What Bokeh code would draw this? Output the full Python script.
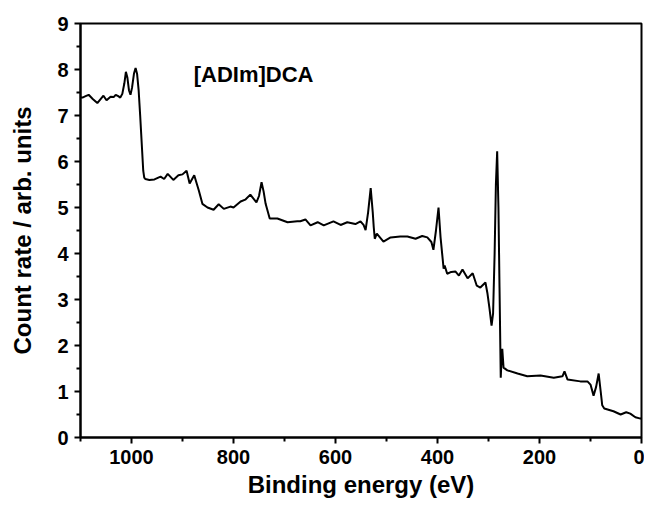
from bokeh.plotting import figure
from bokeh.models import Range1d, Label, FixedTicker
from bokeh.embed import file_html
from bokeh.resources import INLINE

energy = [1100, 1096, 1090, 1084, 1076, 1067, 1061, 1055, 1049, 1041, 1035, 1031, 1026, 1022,
          1018, 1014, 1011, 1008, 1005, 1002, 999, 995, 992, 989, 986, 983, 981, 979, 977, 975,
          973, 965, 955, 943, 936, 929, 918, 908, 900, 892, 886, 877, 868, 861, 851, 839, 829,
          819, 806, 800, 786, 777, 767, 755, 750, 745, 741, 737, 729, 714, 694, 675, 669, 659,
          649, 635, 623, 604, 590, 577, 561, 551, 545, 541, 536, 531, 527, 525, 523, 519, 506,
          492, 473, 459, 443, 430, 420, 412, 408, 403, 398, 394, 388, 386, 381, 373, 365, 358,
          351, 341, 331, 323, 316, 306, 302, 298, 294, 291, 288, 285.5, 283, 280.5, 278.4, 276,
          274.5, 273, 270.5, 263, 243, 224, 198, 172, 155, 151, 145, 120, 106, 100, 94, 89, 84,
          80, 77, 73, 55, 41, 30, 22, 12, 2, 0]
count = [7.39, 7.39, 7.42, 7.45, 7.36, 7.27, 7.35, 7.43, 7.33, 7.41, 7.40, 7.45, 7.42, 7.39,
         7.47, 7.70, 7.95, 7.82, 7.55, 7.45, 7.60, 7.92, 8.03, 7.90, 7.55, 7.00, 6.60, 6.20, 5.80, 5.65,
         5.62, 5.60, 5.61, 5.67, 5.62, 5.73, 5.60, 5.70, 5.72, 5.80, 5.52, 5.70, 5.37, 5.08, 5.00, 4.95, 5.07,
         4.97, 5.02, 5.00, 5.13, 5.17, 5.28, 5.11, 5.25, 5.55, 5.35, 5.08, 4.76, 4.76, 4.68, 4.70, 4.70, 4.74,
         4.61, 4.68, 4.61, 4.70, 4.62, 4.68, 4.64, 4.70, 4.62, 4.51, 4.90, 5.42, 4.90, 4.57, 4.32, 4.43, 4.26,
         4.35, 4.37, 4.37, 4.32, 4.38, 4.35, 4.25, 4.08, 4.50, 5.00, 4.35, 3.67, 3.74, 3.56, 3.60, 3.61, 3.52,
         3.65, 3.46, 3.57, 3.30, 3.26, 3.37, 3.13, 2.80, 2.43, 2.70, 4.00, 5.50, 6.22, 5.00, 3.26, 1.30,
         1.70, 1.93, 1.52, 1.46, 1.39, 1.33, 1.35, 1.30, 1.33, 1.44, 1.26, 1.22, 1.22, 1.15, 0.91, 1.10, 1.39,
         1.00, 0.70, 0.63, 0.57, 0.50, 0.55, 0.52, 0.44, 0.41, 0.42]

x_major = [0, 200, 400, 600, 800, 1000]
x_minor = [100, 300, 500, 700, 900, 1100]
y_major = [0, 1, 2, 3, 4, 5, 6, 7, 8, 9]
y_minor = [0.5, 1.5, 2.5, 3.5, 4.5, 5.5, 6.5, 7.5, 8.5]

FONT = "Liberation Sans"

p = figure(width=644, height=506, x_range=Range1d(1100, 0), y_range=Range1d(0, 9),
           output_backend="svg", toolbar_location=None,
           min_border_left=80, min_border_right=3, min_border_top=23, min_border_bottom=69,
           x_axis_label="Binding energy (eV)", y_axis_label="Count rate / arb. units")

p.line(energy, count, line_color="black", line_width=2)

p.xgrid.visible = False
p.ygrid.visible = False
p.outline_line_color = "black"
p.outline_line_width = 2
p.background_fill_color = "white"
p.border_fill_color = "white"

p.xaxis.ticker = FixedTicker(ticks=x_major, minor_ticks=x_minor)
p.yaxis.ticker = FixedTicker(ticks=y_major, minor_ticks=y_minor)

for ax in (p.xaxis[0], p.yaxis[0]):
    ax.axis_line_width = 2
    ax.axis_line_color = "black"
    ax.major_tick_line_width = 2
    ax.minor_tick_line_width = 2
    ax.major_tick_out = 6
    ax.major_tick_in = 0
    ax.minor_tick_out = 4
    ax.minor_tick_in = 0
    ax.major_label_text_font = FONT
    ax.major_label_text_font_style = "bold"
    ax.major_label_text_font_size = "20px"
    ax.major_label_text_color = "black"
    ax.axis_label_text_font = FONT
    ax.axis_label_text_font_style = "bold"
    ax.axis_label_text_font_size = "24px"
    ax.axis_label_text_color = "black"

p.xaxis.major_label_standoff = 6
p.xaxis.axis_label_standoff = 4
p.yaxis.major_label_standoff = 6
p.yaxis.axis_label_standoff = 18

p.add_layout(Label(x=878, y=7.9, text="[ADIm]DCA", text_font=FONT, text_font_style="bold",
                   text_font_size="22px", text_color="black", text_baseline="middle"))

open("out.html", "w").write(file_html(p, INLINE))
